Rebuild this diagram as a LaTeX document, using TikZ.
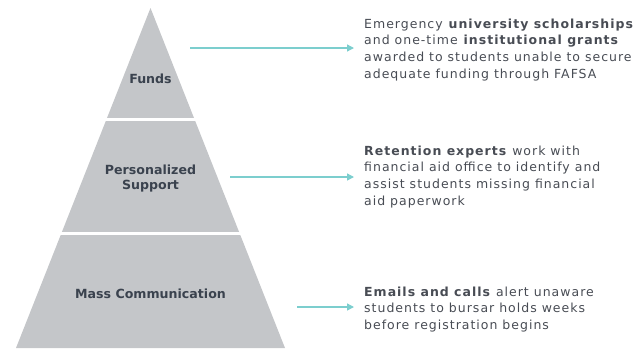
\documentclass[tikz,border=0pt]{standalone}
\usepackage{fontspec}
\setmainfont{DejaVu Sans}
\newfontfamily\descfont[LetterSpace=8]{DejaVu Sans}
\usetikzlibrary{arrows.meta}
\definecolor{pyr}{RGB}{196,198,201}
\definecolor{teal}{RGB}{124,206,206}
\definecolor{lbl}{RGB}{58,66,78}
\definecolor{txt}{RGB}{72,76,84}
\begin{document}
\begin{tikzpicture}[x=1pt,y=-1pt,
  level/.style={font=\bfseries\fontsize{12.6}{15}\selectfont, text=lbl, align=center},
  desc/.style={anchor=north west, inner sep=0pt, align=left, text=txt, font=\descfont\fontsize{12.5}{16.6}\selectfont},
  conn/.style={draw=teal, line width=1.3pt, -{Triangle[length=7pt,width=7pt]}}]
\useasboundingbox (0,0) rectangle (644,349);
\fill[pyr] (150.5,8) -- (285,348) -- (16,348) -- cycle;
\draw[white, line width=2.6pt] (90,119.5) -- (210,119.5);
\draw[white, line width=2.6pt] (40,233.5) -- (260,233.5);
\node[level] (funds) at (150.5,79) {Funds};
\node[level] (pers) at (150.5,179) {Personalized\\Support};
\node[level] (mass) at (150.5,293.5) {Mass Communication};
\node[desc] (t1) at (364,18.5) {Emergency \textbf{university scholarships}\\and one-time \textbf{institutional grants}\\awarded to students unable to secure\\adequate funding through FAFSA};
\node[desc] (t2) at (364,145.5) {\textbf{Retention experts} work with\\financial aid office to identify and\\assist students missing financial\\aid paperwork};
\node[desc] (t3) at (364,286.5) {\textbf{Emails and calls} alert unaware\\students to bursar holds weeks\\before registration begins};
\coordinate (s1) at (190,48);
\coordinate (s2) at (230,177);
\coordinate (s3) at (297,307);
\draw[conn] (s1) -- ([xshift=-10pt]t1.west |- s1);
\draw[conn] (s2) -- ([xshift=-10pt]t2.west |- s2);
\draw[conn] (s3) -- ([xshift=-10pt]t3.west |- s3);
\end{tikzpicture}
\end{document}
